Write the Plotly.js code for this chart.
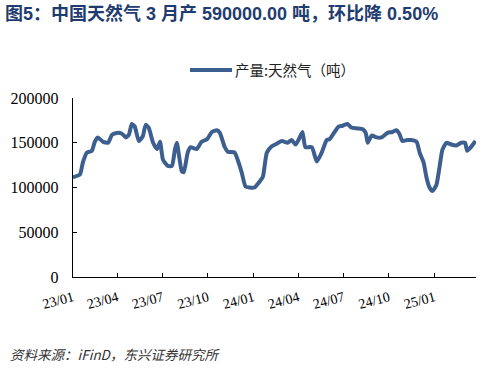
<!DOCTYPE html>
<html>
<head>
<meta charset="utf-8">
<script src="https://cdn.plot.ly/plotly-3.0.1.min.js"></script>
<style>
html,body{margin:0;padding:0;background:#fff;}
#chart{width:492px;height:368px;}
</style>
</head>
<body>
<div id="chart"></div>
<script>
const dates = ["2023-01-01","2023-01-15","2023-01-21","2023-01-29","2023-02-08","2023-02-14","2023-02-20","2023-03-03","2023-03-13","2023-03-21","2023-03-31","2023-04-10","2023-04-18","2023-04-24","2023-04-30","2023-05-06","2023-05-14","2023-05-22","2023-05-28","2023-06-03","2023-06-12","2023-06-20","2023-06-26","2023-07-02","2023-07-12","2023-07-20","2023-07-26","2023-07-30","2023-08-09","2023-08-13","2023-08-21","2023-08-27","2023-09-08","2023-09-18","2023-09-29","2023-10-09","2023-10-19","2023-10-25","2023-11-04","2023-11-10","2023-11-24","2023-11-30","2023-12-08","2023-12-16","2023-12-24","2024-01-03","2024-01-14","2024-01-20","2024-01-28","2024-02-07","2024-02-17","2024-02-27","2024-03-10","2024-03-18","2024-03-26","2024-04-01","2024-04-09","2024-04-15","2024-04-28","2024-05-08","2024-05-18","2024-05-28","2024-06-03","2024-06-13","2024-06-21","2024-06-29","2024-07-09","2024-07-17","2024-07-29","2024-08-09","2024-08-15","2024-08-19","2024-08-27","2024-09-06","2024-09-16","2024-09-28","2024-10-08","2024-10-16","2024-10-22","2024-10-28","2024-11-07","2024-11-15","2024-11-26","2024-12-02","2024-12-10","2024-12-16","2024-12-22","2024-12-28","2025-01-05","2025-01-11","2025-01-17","2025-01-25","2025-02-04","2025-02-14","2025-02-24","2025-03-04","2025-03-08","2025-03-17","2025-03-25"];
const output = [111500,114500,128000,139000,141000,151000,156000,151000,150000,159000,161000,160000,156000,159000,171000,168000,152000,157000,170000,167000,150000,143000,151000,131000,124000,124000,142000,150000,118000,117000,139000,145000,143000,151000,154000,162000,164000,161000,145000,140000,139000,131000,117000,101000,100000,100000,107000,112000,139000,146000,149000,152000,150000,153000,148000,153000,162000,145000,145000,129000,139000,153000,154000,162000,168000,169000,171000,167000,166000,165000,161000,150000,158000,156000,156000,161000,162000,164000,160000,152000,153000,153000,151000,139000,128000,111000,100000,96000,103000,122000,142000,150000,148000,147000,150000,150000,141000,146000,152000];
const tickDates = ["2023-01-01","2023-04-01","2023-07-01","2023-10-01","2024-01-01","2024-04-01","2024-07-01","2024-10-01","2025-01-01"];
const tickLabels = ["23/01","23/04","23/07","23/10","24/01","24/04","24/07","24/10","25/01"];
const yTicks = [0,50000,100000,150000,200000];
const seriesName = "产量:天然气（吨）";
const titleText = "图5：中国天然气 3 月产 590000.00 吨，环比降 0.50%";
const sourceText = "资料来源：iFinD，东兴证券研究所";

const lineColor = "#3d5f8f";
const serif = "'Liberation Serif','DejaVu Serif',serif";
const sans = "'Liberation Sans','Noto Sans CJK SC',sans-serif";

const trace = {
  x: dates, y: output, type: "scatter", mode: "lines", name: seriesName,
  line: {color: lineColor, width: 4, shape: "spline", smoothing: 0.5},
  showlegend: false, hoverinfo: "skip"
};

const layout = {
  width: 492, height: 368,
  margin: {l: 73, r: 16, t: 98, b: 91},
  paper_bgcolor: "#fff", plot_bgcolor: "#fff",
  title: {text: "<b>" + titleText + "</b>", x: 5/492, xanchor: "left", xref: "container", y: 1 - 14/368, yanchor: "middle", yref: "container",
    font: {family: sans, size: 18, color: "#1f3c70"}},
  xaxis: {
    type: "date", range: ["2023-01-01", "2025-03-26"],
    tickvals: tickDates, ticktext: tickLabels, tickangle: -15,
    ticks: "inside", ticklen: 4, tickcolor: "#000", tickwidth: 1,
    showline: true, linecolor: "#000", linewidth: 1.2, showgrid: false, zeroline: false,
    tickfont: {family: serif, size: 14, color: "#000"}, ticklabelstandoff: 6
  },
  yaxis: {
    range: [0, 200000], tickvals: yTicks, ticktext: yTicks.map(String),
    ticks: "inside", ticklen: 4, tickcolor: "#000", tickwidth: 1,
    showline: true, linecolor: "#000", linewidth: 1.2, showgrid: false, zeroline: false,
    tickfont: {family: serif, size: 16, color: "#000"}, ticklabelstandoff: 10
  },
  shapes: [
    {type: "line", xref: "paper", yref: "paper", x0: (190-73)/403, x1: (232-73)/403, y0: (277-70)/179, y1: (277-70)/179,
     line: {color: lineColor, width: 4}}
  ],
  annotations: [
    {text: seriesName, xref: "paper", yref: "paper", x: (233-73)/403, y: (277-70)/179, xanchor: "left", yanchor: "middle",
     showarrow: false, font: {family: "'Noto Sans CJK SC',sans-serif", size: 14.5, color: "#222"}},
    {text: "<i>" + sourceText + "</i>", xref: "paper", yref: "paper", x: (8-73)/403, y: (277-354)/179, xanchor: "left", yanchor: "middle",
     showarrow: false, font: {family: "'Noto Sans CJK SC',sans-serif", size: 13.5, color: "#333"}}
  ]
};

Plotly.newPlot("chart", [trace], layout, {staticPlot: true, displayModeBar: false});
</script>
</body>
</html>
